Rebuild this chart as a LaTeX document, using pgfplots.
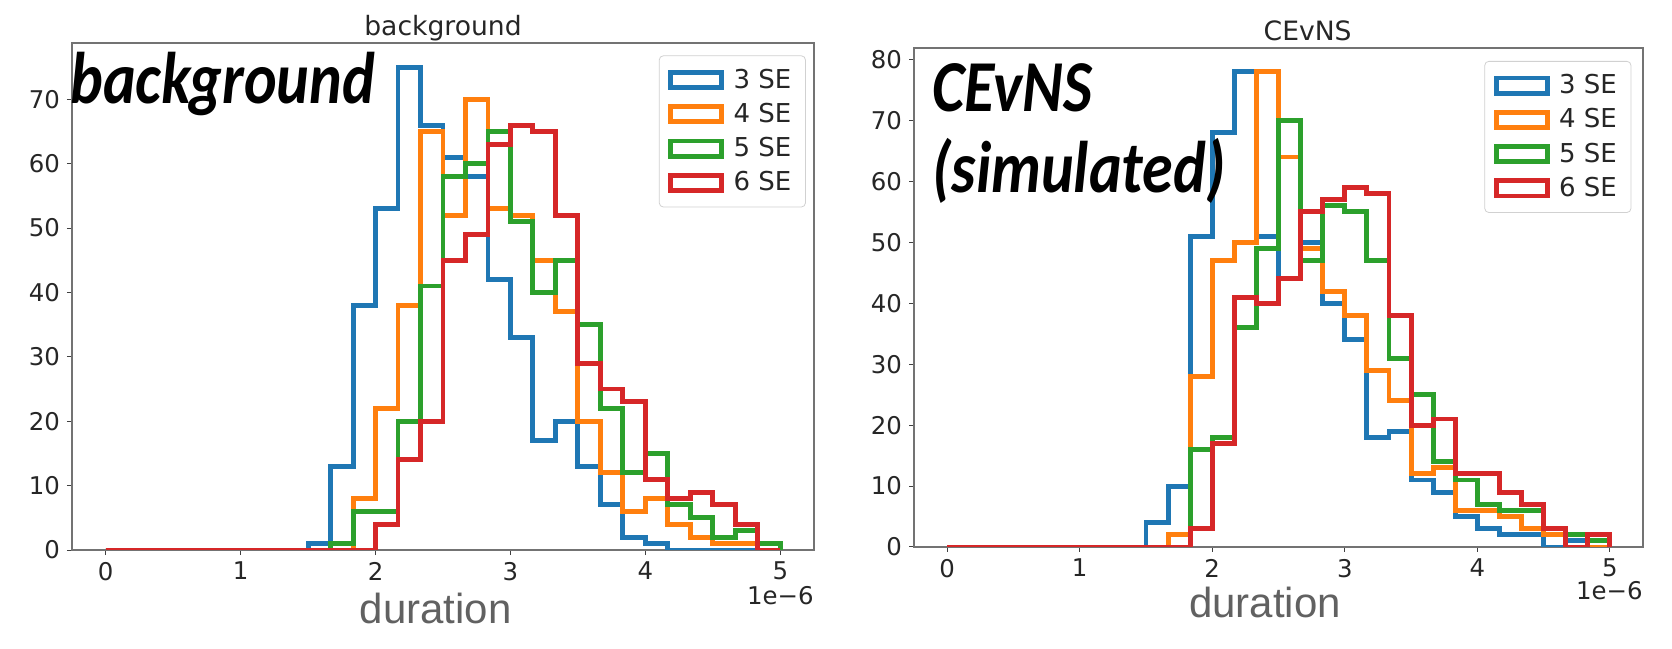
\documentclass[border=0pt]{standalone}
\usepackage{fontspec}
\setmainfont{DejaVu Sans}
\newfontfamily\annfont{Carlito}
\newfontfamily\labfont{Liberation Sans}
\usepackage{pgfplots}
\usepackage{pgfplotstable}
\pgfplotsset{compat=1.18}

\definecolor{cA}{HTML}{1F77B4}
\definecolor{cB}{HTML}{FF7F0E}
\definecolor{cC}{HTML}{2CA02C}
\definecolor{cD}{HTML}{D62728}

% bin left edges (x 1e-6) and counts of each histogram
\pgfplotstableread{
x b3 b4 b5 b6
0 0 0 0 0
0.1667 0 0 0 0
0.3333 0 0 0 0
0.5 0 0 0 0
0.6667 0 0 0 0
0.8333 0 0 0 0
1 0 0 0 0
1.1667 0 0 0 0
1.3333 0 0 0 0
1.5 1 0 0 0
1.6667 13 0 1 0
1.8333 38 8 6 0
2 53 22 6 4
2.1667 75 38 20 14
2.3333 66 65 41 20
2.5 61 52 58 45
2.6667 58 70 60 49
2.8333 42 53 65 63
3 33 52 51 66
3.1667 17 45 40 65
3.3333 20 37 45 52
3.5 13 20 35 29
3.6667 7 12 22 25
3.8333 2 6 12 23
4 1 8 15 11
4.1667 0 4 7 8
4.3333 0 2 5 9
4.5 0 1 2 7
4.6667 0 1 3 4
4.8333 0 0 1 0
5 0 0 1 0
5 0 0 0 0
}\bgdata

\pgfplotstableread{
x b3 b4 b5 b6
0 0 0 0 0
0.1667 0 0 0 0
0.3333 0 0 0 0
0.5 0 0 0 0
0.6667 0 0 0 0
0.8333 0 0 0 0
1 0 0 0 0
1.1667 0 0 0 0
1.3333 0 0 0 0
1.5 4 0 0 0
1.6667 10 2 0 0
1.8333 51 28 16 3
2 68 47 18 17
2.1667 78 50 36 41
2.3333 51 78 49 40
2.5 44 64 70 44
2.6667 50 49 47 55
2.8333 40 42 56 57
3 34 38 55 59
3.1667 18 29 47 58
3.3333 19 24 31 38
3.5 11 12 25 20
3.6667 9 13 14 21
3.8333 5 6 11 12
4 3 6 7 12
4.1667 2 5 6 9
4.3333 2 3 6 7
4.5 0 2 3 3
4.6667 1 0 2 0
4.8333 0 0 1 2
5 0 0 1 2
5 0 0 0 0
}\cedata

\pgfplotsset{
  histax/.style={
    scale only axis,
    anchor=south west,
    xmin=-0.25, xmax=5.25, ymin=0,
    xtick={0,1,2,3,4,5},
    tick align=outside, xtick pos=left, ytick pos=left,
    major tick length=2.5bp,
    tick style={black!75, line width=0.5bp},
    axis line style={black!55, line width=0.6bp},
    ticklabel style={font=\fontsize{12.2bp}{14bp}\selectfont, text=black!85},
    /pgf/number format/assume math mode=true,
    every axis title shift=0pt,
    title style={font=\fontsize{13.3bp}{15bp}\selectfont, text=black!85, anchor=base, yshift=3.8bp},
    xlabel style={anchor=base, font=\labfont\fontsize{21bp}{24bp}\selectfont, text=black!62},
    legend cell align=left,
    legend image code/.code={\draw[##1, sharp corners, line join=miter, line width=2.4bp] (0bp,-3.8bp) rectangle (25.5bp,3.8bp);
      \path[draw=none, fill=none] (0bp,0bp) rectangle (29bp,0.1bp);},
    legend style={anchor=north east, draw=black!18, rounded corners=2bp, fill=white,
      font=\fontsize{13bp}{15bp}\selectfont, text=black!85,
      nodes={inner sep=2.5bp}, row sep=1bp, inner xsep=4.5bp, inner ysep=4bp},
    every axis plot/.append style={const plot, line width=2.45bp, line join=miter, no marks},
  },
}

\begin{document}
\begin{tikzpicture}
\path[use as bounding box] (0,0) rectangle (836bp,324.5bp);

\begin{axis}[histax,
  at={(36bp,49.5bp)}, width=371bp, height=253.5bp,
  ymax=78.75, ytick={0,10,20,30,40,50,60,70},
  title={background},
  title style={at={(axis description cs:0.5,1)}},
  xlabel={duration},
  xlabel style={at={(axis description cs:0.49,-0.144)}},
  legend style={at={(axis description cs:0.989,0.9755)}},
]
\addplot[cA] table[x=x,y=b3] {\bgdata};
\addplot[cB] table[x=x,y=b4] {\bgdata};
\addplot[cC] table[x=x,y=b5] {\bgdata};
\addplot[cD] table[x=x,y=b6] {\bgdata};
\legend{3 SE,4 SE,5 SE,6 SE}
\end{axis}

\begin{axis}[histax,
  at={(457bp,51bp)}, width=364.5bp, height=249.5bp,
  ymax=81.9, ytick={0,10,20,30,40,50,60,70,80},
  title={CEvNS},
  title style={at={(axis description cs:0.54,1)}},
  xlabel={duration},
  xlabel style={at={(axis description cs:0.4815,-0.142)}},
  legend style={at={(axis description cs:0.984,0.974)}},
]
\addplot[cA] table[x=x,y=b3] {\cedata};
\addplot[cB] table[x=x,y=b4] {\cedata};
\addplot[cC] table[x=x,y=b5] {\cedata};
\addplot[cD] table[x=x,y=b6] {\cedata};
\legend{3 SE,4 SE,5 SE,6 SE}
\end{axis}

\node[anchor=base east, inner sep=0pt, font=\fontsize{12.2bp}{14bp}\selectfont, text=black!85] at (407bp,22.5bp) {1e−6};
\node[anchor=base east, inner sep=0pt, font=\fontsize{12.2bp}{14bp}\selectfont, text=black!85] at (821.5bp,25bp) {1e−6};

\begin{scope}[every node/.style={anchor=base west, inner sep=0pt, yscale=1.18, transform shape, font=\annfont\bfseries\itshape\fontsize{31bp}{36bp}\selectfont}]
\node at (35bp,272.8bp) {background};
\node at (466bp,268.5bp) {CEvNS};
\node at (466bp,228bp) {(simulated)};
\end{scope}
\end{tikzpicture}
\end{document}
